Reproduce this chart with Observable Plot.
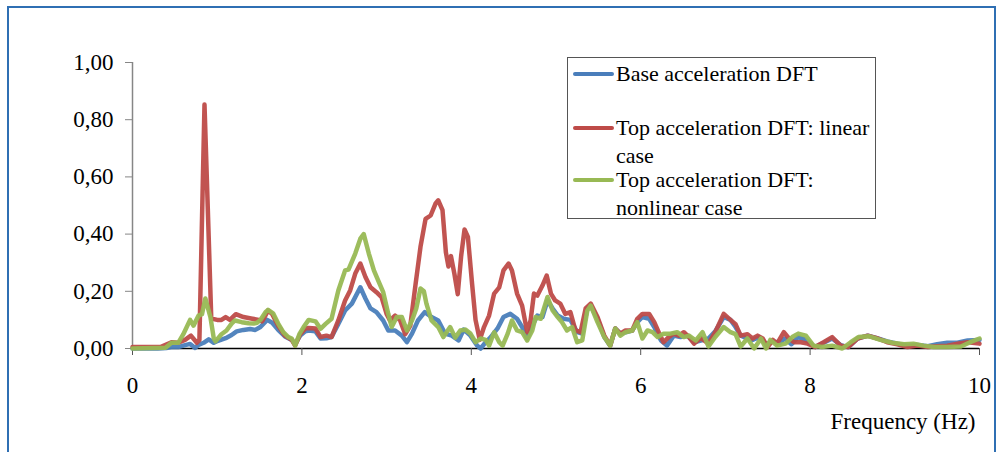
<!DOCTYPE html>
<html>
<head>
<meta charset="utf-8">
<script src="https://cdn.jsdelivr.net/npm/d3@7"></script>
<script src="https://cdn.jsdelivr.net/npm/@observablehq/plot@0.6"></script>
<style>
  html, body { margin: 0; padding: 0; background: #fff; }
  #wrap { position: relative; width: 999px; height: 452px; overflow: hidden; font-family: 'Liberation Serif', 'DejaVu Serif', serif; }
  #wrap svg text { font-family: 'Liberation Serif', 'DejaVu Serif', serif; }
  #frame { position: absolute; left: 7px; top: 6px; width: 989px; height: 460px; border: 2px solid #2f6fb3; box-sizing: border-box; pointer-events: none; }
  #legend { position: absolute; left: 567px; top: 57px; width: 309px; height: 162px; border: 1px solid #555; box-sizing: border-box; background: #fff; }
  .row { position: absolute; left: 0; font-size: 22px; line-height: 28px; color: #000; }
  .swatch { position: absolute; left: 5px; width: 41px; height: 4px; border-radius: 2px; }
  .txt { position: absolute; left: 48px; white-space: nowrap; }
</style>
</head>
<body>
<div id="wrap">
  <div id="chart"></div>
  <div id="legend"></div>
  <div id="frame"></div>
</div>
<script>
// Frequency axis (Hz) and amplitude ticks
const xTicks = [0, 2, 4, 6, 8, 10];
const yTicks = [0, 0.2, 0.4, 0.6, 0.8, 1.0];

const seriesNames = [
  "Base acceleration DFT",
  "Top acceleration DFT: linear case",
  "Top acceleration DFT: nonlinear case"
];
const seriesColors = ["#4a7ebb", "#be4b48", "#98b954"];

// Base acceleration spectrum
const freqBase = [0, 0.3, 0.4, 0.46, 0.54, 0.6, 0.68, 0.74, 0.78, 0.84, 0.9, 0.96, 1.01, 1.1, 1.17, 1.23, 1.31, 1.39, 1.45, 1.51, 1.59, 1.65, 1.72, 1.8, 1.88, 1.92, 1.98, 2.04, 2.08, 2.16, 2.22, 2.29, 2.35, 2.43, 2.51, 2.59, 2.69, 2.75, 2.81, 2.88, 2.96, 3.02, 3.1, 3.18, 3.24, 3.3, 3.37, 3.45, 3.53, 3.61, 3.69, 3.77, 3.85, 3.91, 3.99, 4.07, 4.11, 4.17, 4.23, 4.31, 4.38, 4.46, 4.54, 4.6, 4.66, 4.72, 4.78, 4.84, 4.9, 4.96, 5.02, 5.09, 5.17, 5.25, 5.31, 5.37, 5.41, 5.49, 5.57, 5.64, 5.7, 5.76, 5.82, 5.9, 5.96, 6.02, 6.1, 6.16, 6.24, 6.31, 6.39, 6.47, 6.55, 6.63, 6.71, 6.8, 6.88, 6.98, 7.06, 7.12, 7.18, 7.26, 7.32, 7.4, 7.48, 7.56, 7.64, 7.7, 7.78, 7.86, 7.95, 8.06, 8.16, 8.26, 8.36, 8.45, 8.56, 8.68, 8.8, 8.91, 9.03, 9.15, 9.27, 9.39, 9.5, 9.62, 9.74, 9.86, 10];
const ampBase = [0, 0, 0.002, 0.005, 0.005, 0.01, 0.016, 0.002, 0.013, 0.02, 0.032, 0.02, 0.027, 0.036, 0.047, 0.06, 0.065, 0.068, 0.065, 0.075, 0.1, 0.09, 0.065, 0.042, 0.03, 0.016, 0.045, 0.06, 0.063, 0.06, 0.035, 0.036, 0.04, 0.086, 0.133, 0.157, 0.214, 0.175, 0.14, 0.127, 0.098, 0.063, 0.063, 0.045, 0.022, 0.052, 0.098, 0.127, 0.11, 0.098, 0.052, 0.045, 0.028, 0.066, 0.045, 0.01, 0, 0.022, 0.04, 0.07, 0.11, 0.121, 0.104, 0.075, 0.035, 0.08, 0.115, 0.11, 0.168, 0.14, 0.115, 0.104, 0.1, 0.057, 0.052, 0.14, 0.15, 0.104, 0.04, 0.01, 0.07, 0.052, 0.057, 0.063, 0.092, 0.11, 0.104, 0.075, 0.028, 0.01, 0.045, 0.04, 0.045, 0.022, 0.028, 0.035, 0.06, 0.11, 0.1, 0.075, 0.045, 0.035, 0.03, 0.04, 0.015, 0.025, 0.02, 0.035, 0.015, 0.04, 0.03, 0.005, 0.02, 0.035, 0.012, 0.005, 0.035, 0.045, 0.035, 0.025, 0.017, 0.01, 0.012, 0.008, 0.015, 0.02, 0.02, 0.028, 0.03];

// Top acceleration spectrum, linear structure
const freqLinear = [0, 0.33, 0.46, 0.54, 0.62, 0.69, 0.76, 0.79, 0.85, 0.93, 1.0, 1.05, 1.1, 1.15, 1.22, 1.31, 1.4, 1.49, 1.53, 1.56, 1.6, 1.65, 1.72, 1.8, 1.88, 1.92, 1.98, 2.04, 2.08, 2.16, 2.22, 2.29, 2.35, 2.43, 2.51, 2.57, 2.63, 2.69, 2.75, 2.81, 2.88, 2.94, 3.0, 3.04, 3.1, 3.16, 3.22, 3.28, 3.34, 3.4, 3.46, 3.52, 3.58, 3.61, 3.66, 3.7, 3.73, 3.76, 3.8, 3.84, 3.88, 3.92, 3.96, 4.01, 4.05, 4.1, 4.15, 4.21, 4.27, 4.33, 4.38, 4.44, 4.48, 4.54, 4.6, 4.66, 4.7, 4.74, 4.78, 4.84, 4.89, 4.94, 4.99, 5.05, 5.11, 5.17, 5.23, 5.29, 5.35, 5.41, 5.49, 5.57, 5.64, 5.7, 5.76, 5.82, 5.9, 5.96, 6.02, 6.1, 6.16, 6.22, 6.27, 6.33, 6.39, 6.45, 6.51, 6.57, 6.63, 6.71, 6.8, 6.88, 6.98, 7.06, 7.12, 7.18, 7.26, 7.32, 7.38, 7.44, 7.5, 7.56, 7.61, 7.69, 7.75, 7.81, 7.89, 7.97, 8.06, 8.16, 8.26, 8.36, 8.45, 8.56, 8.68, 8.8, 8.91, 9.03, 9.15, 9.27, 9.39, 9.5, 9.62, 9.74, 9.86, 10];
const ampLinear = [0.005, 0.005, 0.022, 0.02, 0.03, 0.045, 0.02, 0.03, 0.853, 0.105, 0.1, 0.1, 0.11, 0.1, 0.12, 0.11, 0.105, 0.1, 0.095, 0.11, 0.133, 0.12, 0.08, 0.045, 0.03, 0.01, 0.05, 0.07, 0.072, 0.07, 0.04, 0.045, 0.04, 0.098, 0.168, 0.203, 0.262, 0.297, 0.25, 0.214, 0.197, 0.18, 0.121, 0.098, 0.115, 0.098, 0.05, 0.08, 0.22, 0.355, 0.453, 0.465, 0.508, 0.518, 0.484, 0.336, 0.287, 0.323, 0.262, 0.19, 0.323, 0.416, 0.39, 0.224, 0.1, 0.03, 0.075, 0.115, 0.192, 0.214, 0.273, 0.297, 0.273, 0.192, 0.15, 0.057, 0.098, 0.192, 0.185, 0.22, 0.255, 0.192, 0.168, 0.157, 0.121, 0.127, 0.063, 0.057, 0.14, 0.157, 0.11, 0.045, 0.01, 0.07, 0.052, 0.063, 0.063, 0.104, 0.121, 0.121, 0.092, 0.052, 0.022, 0.04, 0.052, 0.045, 0.057, 0.04, 0.017, 0.037, 0.017, 0.057, 0.121, 0.1, 0.085, 0.045, 0.05, 0.035, 0.045, 0.035, 0.005, 0.03, 0.017, 0.057, 0.035, 0.022, 0.022, 0.017, 0.005, 0.022, 0.04, 0.01, 0.005, 0.035, 0.045, 0.035, 0.022, 0.015, 0.005, 0.01, 0.005, 0.008, 0.01, 0.017, 0.022, 0.017];

// Top acceleration spectrum, nonlinear structure
const freqNonlinear = [0, 0.39, 0.46, 0.54, 0.6, 0.68, 0.72, 0.78, 0.82, 0.86, 0.92, 0.96, 0.98, 1.05, 1.11, 1.17, 1.21, 1.29, 1.37, 1.43, 1.47, 1.51, 1.57, 1.6, 1.66, 1.72, 1.78, 1.84, 1.88, 1.92, 1.97, 2.02, 2.08, 2.16, 2.22, 2.28, 2.35, 2.43, 2.51, 2.55, 2.63, 2.69, 2.73, 2.79, 2.85, 2.9, 2.96, 3.02, 3.06, 3.12, 3.18, 3.24, 3.3, 3.35, 3.4, 3.44, 3.47, 3.53, 3.61, 3.67, 3.75, 3.81, 3.87, 3.93, 3.99, 4.05, 4.11, 4.17, 4.21, 4.27, 4.33, 4.37, 4.43, 4.48, 4.54, 4.6, 4.66, 4.72, 4.76, 4.82, 4.9, 4.96, 5.02, 5.07, 5.13, 5.19, 5.25, 5.31, 5.37, 5.41, 5.49, 5.57, 5.64, 5.7, 5.76, 5.82, 5.9, 5.96, 6.02, 6.08, 6.14, 6.2, 6.27, 6.35, 6.43, 6.51, 6.57, 6.65, 6.73, 6.8, 6.88, 6.98, 7.06, 7.12, 7.18, 7.26, 7.34, 7.42, 7.48, 7.53, 7.61, 7.71, 7.79, 7.86, 7.95, 8.04, 8.14, 8.26, 8.38, 8.48, 8.57, 8.69, 8.83, 8.97, 9.11, 9.22, 9.34, 9.46, 9.62, 9.78, 9.89, 10];
const ampNonlinear = [0, 0.003, 0.02, 0.02, 0.05, 0.1, 0.08, 0.115, 0.12, 0.175, 0.11, 0.035, 0.025, 0.05, 0.063, 0.087, 0.098, 0.092, 0.088, 0.087, 0.09, 0.1, 0.127, 0.135, 0.123, 0.087, 0.057, 0.04, 0.035, 0.01, 0.05, 0.075, 0.1, 0.095, 0.069, 0.086, 0.104, 0.203, 0.273, 0.276, 0.332, 0.384, 0.4, 0.332, 0.273, 0.238, 0.197, 0.121, 0.075, 0.11, 0.11, 0.063, 0.098, 0.14, 0.21, 0.2, 0.157, 0.098, 0.075, 0.04, 0.075, 0.038, 0.063, 0.066, 0.052, 0.022, 0.035, 0.03, 0.01, 0.057, 0.022, 0.01, 0.052, 0.098, 0.063, 0.057, 0.028, 0.063, 0.11, 0.104, 0.18, 0.133, 0.11, 0.092, 0.063, 0.075, 0.022, 0.028, 0.133, 0.15, 0.092, 0.04, 0.01, 0.07, 0.045, 0.057, 0.063, 0.092, 0.035, 0.063, 0.057, 0.04, 0.052, 0.052, 0.057, 0.04, 0.045, 0.028, 0.057, 0.007, 0.04, 0.075, 0.057, 0.05, 0.007, 0.035, 0, 0.035, 0, 0.03, 0.01, 0.017, 0.04, 0.052, 0.045, 0.01, 0.005, 0.01, 0, 0.022, 0.04, 0.043, 0.03, 0.02, 0.015, 0.017, 0.01, 0.005, 0.005, 0.007, 0.022, 0.035];

const toRows = (freqs, amps) => freqs.map((f, i) => ({f, a: amps[i]}));
const rowsBase = toRows(freqBase, ampBase);
const rowsLinear = toRows(freqLinear, ampLinear);
const rowsNonlinear = toRows(freqNonlinear, ampNonlinear);

const lineStyle = {x: "f", y: "a", strokeWidth: 4.5, strokeLinejoin: "round", strokeLinecap: "round", strokeOpacity: 0.95};

const chart = Plot.plot({
  width: 999,
  height: 452,
  marginLeft: 132,
  marginRight: 20,
  marginTop: 62,
  marginBottom: 104,
  style: {fontFamily: "'Liberation Serif', 'DejaVu Serif', serif", fontSize: "22px", color: "#000", background: "transparent", overflow: "visible"},
  x: {domain: [0, 10]},
  y: {domain: [0, 1]},
  marks: [
    Plot.ruleX([0], {stroke: "#868686", strokeWidth: 1.5}),
    Plot.ruleY([0], {stroke: "#000", strokeWidth: 1.5}),
    Plot.axisY({ticks: yTicks, tickSize: 7, tickPadding: 12, stroke: "#868686", tickFormat: d => d.toFixed(2).replace(".", ","), label: null, fontSize: 23}),
    Plot.axisX({ticks: xTicks, tickSize: 7, tickPadding: 21, stroke: "#555", tickFormat: d => String(d), label: null, fontSize: 23}),
    Plot.line(rowsBase, {...lineStyle, stroke: seriesColors[0]}),
    Plot.line(rowsLinear, {...lineStyle, stroke: seriesColors[1]}),
    Plot.line(rowsNonlinear, {...lineStyle, stroke: seriesColors[2]}),
    Plot.text(["Frequency (Hz)"], {frameAnchor: "bottom-right", dx: -4, dy: 73, textAnchor: "end", lineAnchor: "middle", fontSize: 23})
  ]
});
document.getElementById("chart").appendChild(chart);

// Legend: swatch plus (wrapped) label per series
const legendRows = [
  {lines: ["Base acceleration DFT"], top: 2},
  {lines: ["Top acceleration DFT: linear", "case"], top: 56},
  {lines: ["Top acceleration DFT:", "nonlinear case"], top: 108}
];
const legend = document.getElementById("legend");
legendRows.forEach((r, i) => {
  const row = document.createElement("div");
  row.className = "row";
  row.style.top = r.top + "px";
  const sw = document.createElement("div");
  sw.className = "swatch";
  sw.style.background = seriesColors[i];
  sw.style.top = "12px";
  row.appendChild(sw);
  r.lines.forEach((t, j) => {
    const tx = document.createElement("div");
    tx.className = "txt";
    tx.style.top = (j * 28) + "px";
    tx.textContent = t;
    row.appendChild(tx);
  });
  legend.appendChild(row);
});
</script>
</body>
</html>
